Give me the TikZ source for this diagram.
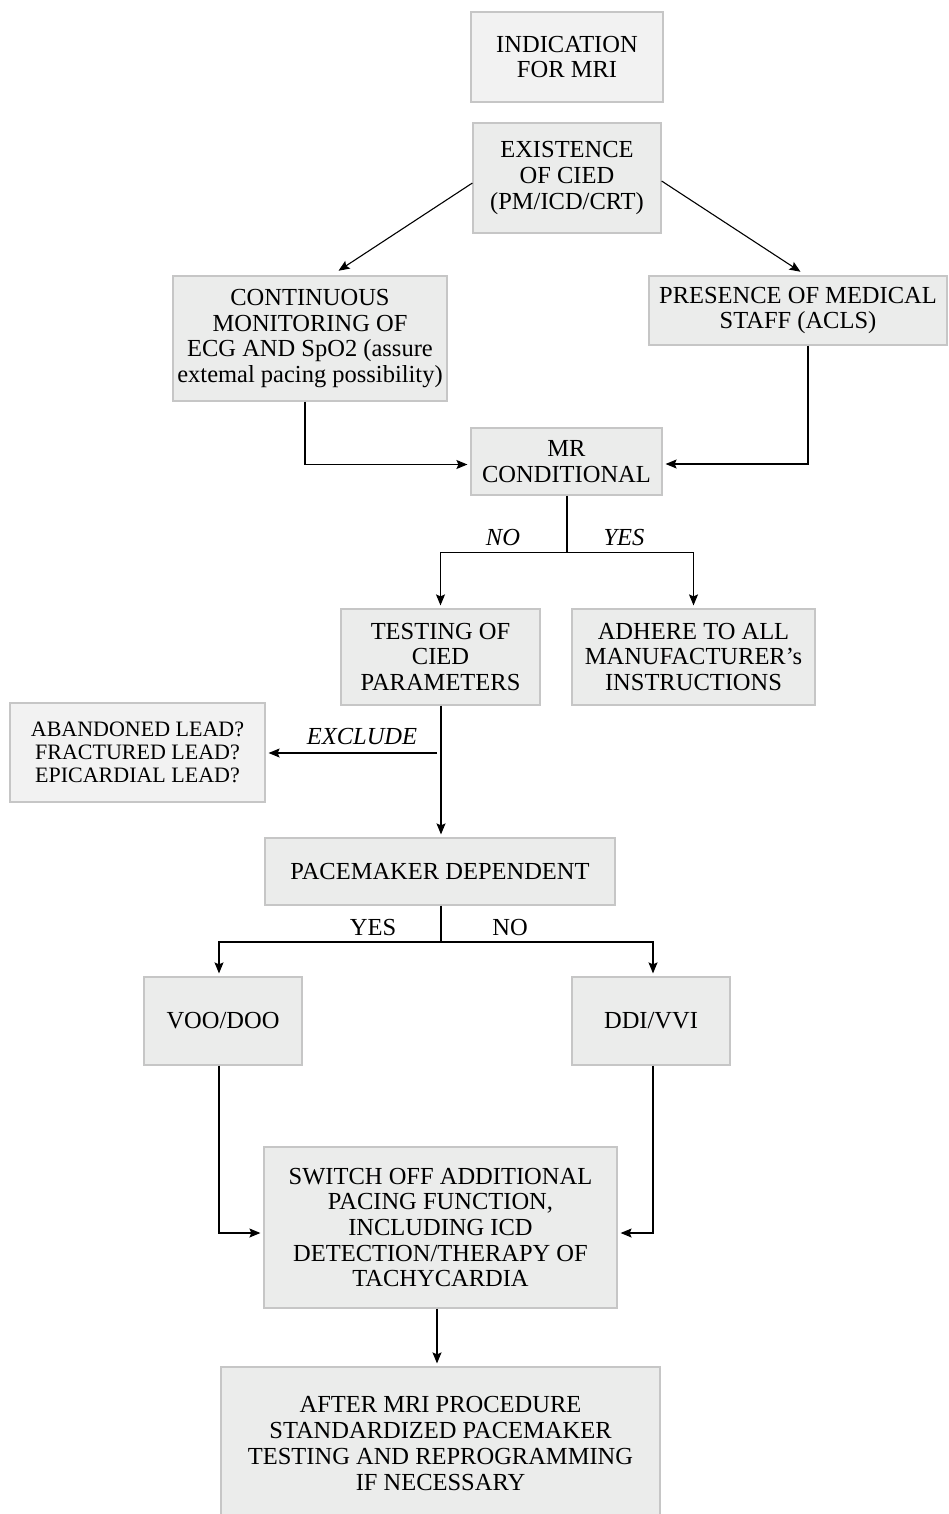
\documentclass[tikz,border=0pt]{standalone}
\usepackage{fontspec}
\setmainfont{Liberation Serif}
\usetikzlibrary{calc,arrows.meta}

\definecolor{boxfill}{HTML}{EBECEB}
\definecolor{boxpale}{HTML}{F2F2F2}
\definecolor{boxline}{HTML}{C6C6C6}

\begin{document}
\begin{tikzpicture}[x=1pt,y=-1pt,
	font=\fontsize{24.5}{25.7}\selectfont,
	box/.style={draw=boxline,line width=1.2pt,fill=boxfill,align=center,inner sep=0pt},
	palebox/.style={box,fill=boxpale},
	arr/.style={-{Stealth[length=11pt,width=9pt,inset=2pt]},line width=1.1pt,shorten >=3pt},
	link/.style={line width=1.1pt}]

	% page
	\useasboundingbox (0,0) rectangle (948,1514);

	% boxes
	\node[palebox,minimum width=192pt,minimum height=90pt] (ind) at (567,57) {INDICATION\\FOR MRI};
	\node[box,minimum width=188pt,minimum height=110pt] (exist) at (567,178) {EXISTENCE\\OF CIED\\(PM/ICD/CRT)};
	\node[box,minimum width=274pt,minimum height=125pt] (cont) at (310,338.5) {CONTINUOUS\\MONITORING OF\\ECG AND SpO2 (assure\\extemal pacing possibility)};
	\node[box,minimum width=298pt,minimum height=69pt] (pres) at (798,310.5) {PRESENCE OF MEDICAL\\STAFF (ACLS)};
	\node[box,minimum width=191pt,minimum height=67pt] (mr) at (566.5,461.5) {MR\\CONDITIONAL};
	\node[box,minimum width=199pt,minimum height=96pt] (test) at (440.5,657) {TESTING OF\\CIED\\PARAMETERS};
	\node[box,minimum width=243pt,minimum height=96pt] (adhere) at (693.5,657) {ADHERE TO ALL\\MANUFACTURER’s\\INSTRUCTIONS};
	\node[palebox,minimum width=255pt,minimum height=99pt,font=\fontsize{22}{23.2}\selectfont] (lead) at (137.5,752.5) {ABANDONED LEAD?\\FRACTURED LEAD?\\EPICARDIAL LEAD?};
	\node[box,minimum width=350pt,minimum height=67pt] (dep) at (440,871.5) {PACEMAKER DEPENDENT};
	\node[box,minimum width=158pt,minimum height=88pt] (voo) at (223,1021) {VOO/DOO};
	\node[box,minimum width=158pt,minimum height=88pt] (ddi) at (651,1021) {DDI/VVI};
	\node[box,minimum width=353pt,minimum height=161pt] (off) at (440.5,1227.5) {SWITCH OFF ADDITIONAL\\PACING FUNCTION,\\INCLUDING ICD\\DETECTION/THERAPY OF\\TACHYCARDIA};
	\node[box,minimum width=439pt,minimum height=153pt] (after) at (440.5,1443.5) {AFTER MRI PROCEDURE\\STANDARDIZED PACEMAKER\\TESTING AND REPROGRAMMING\\IF NECESSARY};

	% connectors
	\draw[arr] ($(exist.west)+(0,5)$) -- ($(cont.north)+(26,-3)$);
	\draw[arr] ($(exist.east)+(0,3)$) -- ($(pres.north)+(5,-2)$);
	\draw[arr] ($(cont.south)+(-5,0)$) |- ($(mr.west)+(0,3)$);
	\draw[arr] ($(pres.south)+(10,0)$) |- ($(mr.east)+(0,2.5)$);

	\coordinate (mrfork) at ($(mr.south)+(0.5,57)$);
	\draw[link] (mr.south -| mrfork) -- (mrfork);
	\draw[arr] (mrfork) -| (test.north);
	\draw[arr] (mrfork) -| (adhere.north);
	\node[font=\fontsize{24.5}{25.7}\selectfont\itshape] (mrno) at (503,538) {NO};
	\node[font=\fontsize{24.5}{25.7}\selectfont\itshape] (mryes) at (624,538) {YES};

	\draw[arr] (test.south -| 441,0) -- (dep.north -| 441,0);
	\coordinate (ex) at (437,753);
	\draw[arr] (ex) -- (ex -| lead.east);
	\node[font=\fontsize{24.5}{25.7}\selectfont\itshape] (exclude) at (362,737) {EXCLUDE};

	\coordinate (depfork) at (441,942);
	\draw[link] (dep.south -| depfork) -- (depfork);
	\draw[arr] (depfork) -| ($(voo.north)+(-4,0)$);
	\draw[arr] (depfork) -| ($(ddi.north)+(2,0)$);
	\node (depyes) at (373,927) {YES};
	\node (depno) at (510,927) {NO};

	\draw[arr] ($(voo.south)+(-4,0)$) |- ($(off.west)+(0,5.5)$);
	\draw[arr] ($(ddi.south)+(2,0)$) |- ($(off.east)+(0,5.5)$);
	\draw[arr] ($(off.south)+(-3.5,0)$) -- ($(after.north)+(-3.5,0)$);
\end{tikzpicture}
\end{document}
